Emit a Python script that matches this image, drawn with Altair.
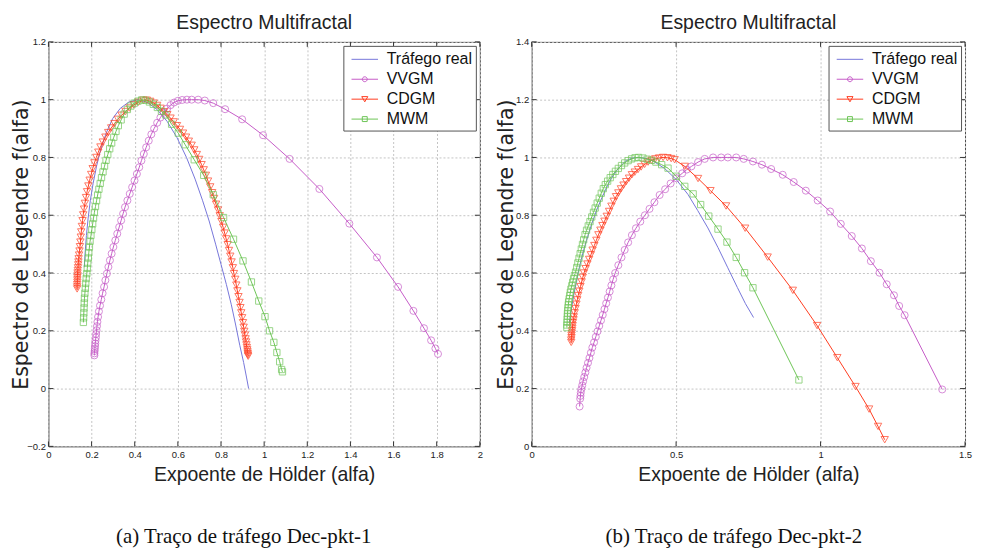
import altair as alt
import pandas as pd

SERIES = ["Tráfego real", "VVGM", "CDGM", "MWM"]
COLORS = ["#7676da", "#c65cc8", "#ff3d20", "#6dc556"]

# ---------------- panel (a) : Dec-pkt-1 ----------------
A_REAL_ALPHA = [0.166, 0.170, 0.176, 0.184, 0.194, 0.207, 0.223, 0.243, 0.268, 0.298, 0.333, 0.373, 0.415,
                0.46, 0.505, 0.55, 0.595, 0.64, 0.68, 0.715, 0.745, 0.775, 0.80, 0.825, 0.848, 0.868, 0.887,
                0.905, 0.918, 0.928]
A_REAL_F = [0.42, 0.47, 0.53, 0.59, 0.65, 0.71, 0.77, 0.83, 0.885, 0.935, 0.97, 0.992, 1.0,
            0.99, 0.965, 0.925, 0.87, 0.80, 0.725, 0.65, 0.58, 0.5, 0.43, 0.36, 0.29, 0.22, 0.15,
            0.09, 0.04, 0.0]

A_VVGM_ALPHA = [0.213, 0.213, 0.214, 0.215, 0.216, 0.217, 0.218, 0.22, 0.221, 0.223, 0.225, 0.227, 0.23, 0.234,
                0.239, 0.245, 0.251, 0.258, 0.264, 0.271, 0.278, 0.285, 0.293, 0.301, 0.31, 0.319, 0.328, 0.337,
                0.346, 0.355, 0.366, 0.377, 0.388, 0.399, 0.41, 0.421, 0.431, 0.442, 0.453, 0.465, 0.477, 0.49,
                0.504, 0.519, 0.535, 0.55, 0.566, 0.582, 0.6, 0.62, 0.642, 0.664, 0.694, 0.725, 0.764, 0.819,
                0.898, 0.995, 1.118, 1.256, 1.395, 1.523, 1.621, 1.692, 1.741, 1.774, 1.794, 1.806]
A_VVGM_F = [0.115, 0.122, 0.13, 0.138, 0.147, 0.156, 0.166, 0.177, 0.189, 0.202, 0.216, 0.231, 0.248, 0.267,
            0.287, 0.308, 0.33, 0.352, 0.375, 0.398, 0.421, 0.444, 0.467, 0.49, 0.513, 0.536, 0.559, 0.582,
            0.605, 0.628, 0.651, 0.674, 0.697, 0.72, 0.743, 0.766, 0.789, 0.812, 0.835, 0.858, 0.88, 0.9,
            0.92, 0.938, 0.955, 0.969, 0.981, 0.99, 0.996, 0.999, 1.0, 1.0, 1.0, 0.997, 0.988, 0.967,
            0.932, 0.877, 0.795, 0.691, 0.571, 0.454, 0.352, 0.269, 0.209, 0.167, 0.139, 0.12]

A_CDGM_ALPHA = [0.133, 0.133, 0.133, 0.134, 0.134, 0.134, 0.135, 0.135, 0.136, 0.137, 0.138, 0.139, 0.14, 0.142,
                0.144, 0.146, 0.148, 0.150, 0.152, 0.155, 0.158, 0.161, 0.165, 0.169, 0.174, 0.179, 0.185, 0.191,
                0.198, 0.205, 0.213, 0.222, 0.231, 0.241, 0.252, 0.264, 0.277, 0.291, 0.306, 0.322, 0.339, 0.357,
                0.376, 0.396, 0.417, 0.44,
                0.456, 0.472, 0.488, 0.504, 0.52, 0.536, 0.551, 0.566, 0.581, 0.596, 0.61, 0.624, 0.638, 0.651,
                0.664, 0.676, 0.688, 0.699, 0.71, 0.72, 0.73, 0.74, 0.75, 0.759, 0.768, 0.777, 0.786, 0.794,
                0.802, 0.81, 0.817, 0.824, 0.831, 0.837, 0.843, 0.849, 0.855, 0.86, 0.866, 0.871, 0.876, 0.881,
                0.886, 0.89, 0.894, 0.898, 0.902, 0.905, 0.908, 0.911, 0.914, 0.916, 0.918, 0.92, 0.922, 0.923,
                0.924, 0.925, 0.926]
A_CDGM_F = [0.345, 0.352, 0.36, 0.368, 0.376, 0.384, 0.392, 0.40, 0.409, 0.418, 0.428, 0.438, 0.449, 0.462,
            0.476, 0.491, 0.507, 0.524, 0.542, 0.561, 0.581, 0.601, 0.621, 0.641, 0.661, 0.681, 0.701, 0.721,
            0.741, 0.761, 0.781, 0.8, 0.818, 0.836, 0.853, 0.87, 0.886, 0.902, 0.917, 0.932, 0.946, 0.959,
            0.971, 0.982, 0.991, 0.998,
            0.998, 0.994, 0.988, 0.98, 0.97, 0.958, 0.948, 0.936, 0.923, 0.91, 0.897, 0.884, 0.87, 0.856,
            0.842, 0.826, 0.81, 0.793, 0.775, 0.757, 0.738, 0.718, 0.698, 0.678, 0.658, 0.638, 0.618, 0.598,
            0.578, 0.558, 0.538, 0.518, 0.498, 0.478, 0.458, 0.438, 0.418, 0.398, 0.378, 0.358, 0.338, 0.318,
            0.298, 0.28, 0.262, 0.245, 0.228, 0.212, 0.198, 0.185, 0.172, 0.161, 0.151, 0.142, 0.134, 0.127,
            0.121, 0.116, 0.112]

A_MWM_ALPHA = [0.162, 0.163, 0.164, 0.165, 0.166, 0.167, 0.169, 0.171, 0.173, 0.175, 0.178, 0.18, 0.182, 0.185,
               0.187, 0.19, 0.193, 0.197, 0.201, 0.205, 0.209, 0.213, 0.218, 0.223, 0.228, 0.234, 0.24, 0.246,
               0.253, 0.26, 0.267, 0.275, 0.284, 0.293, 0.303, 0.313, 0.324, 0.337, 0.351, 0.366, 0.382, 0.398,
               0.415, 0.432,
               0.45, 0.468, 0.486, 0.505, 0.524, 0.544, 0.571, 0.602, 0.634, 0.676, 0.72, 0.764, 0.812, 0.858,
               0.902, 0.941, 0.975, 1.004, 1.025, 1.045, 1.059, 1.072, 1.081, 1.085]
A_MWM_F = [0.229, 0.245, 0.262, 0.279, 0.296, 0.313, 0.33, 0.347, 0.364, 0.381, 0.398, 0.416, 0.434, 0.452,
           0.47, 0.49, 0.51, 0.53, 0.55, 0.57, 0.59, 0.61, 0.63, 0.65, 0.67, 0.69, 0.71, 0.73,
           0.75, 0.77, 0.79, 0.81, 0.83, 0.85, 0.87, 0.89, 0.91, 0.93, 0.95, 0.966, 0.978, 0.988,
           0.995, 0.999,
           0.998, 0.992, 0.984, 0.973, 0.96, 0.947, 0.915, 0.884, 0.844, 0.792, 0.738, 0.671, 0.592, 0.517,
           0.442, 0.369, 0.303, 0.249, 0.2, 0.16, 0.125, 0.093, 0.066, 0.058]

# ---------------- panel (b) : Dec-pkt-2 ----------------
B_REAL_ALPHA = [0.131, 0.135, 0.14, 0.147, 0.155, 0.163, 0.172, 0.181, 0.19, 0.199, 0.208, 0.225, 0.243, 0.26,
                0.277, 0.3, 0.323, 0.347, 0.37, 0.395, 0.42, 0.46, 0.5, 0.541, 0.575, 0.61, 0.645, 0.679,
                0.712, 0.74, 0.768]
B_REAL_F = [0.43, 0.46, 0.49, 0.53, 0.57, 0.61, 0.648, 0.683, 0.713, 0.742, 0.77, 0.818, 0.86, 0.897,
            0.93, 0.962, 0.986, 0.998, 1.0, 0.997, 0.988, 0.962, 0.924, 0.872, 0.816, 0.756, 0.688, 0.618,
            0.55, 0.494, 0.446]

B_VVGM_ALPHA = [0.166, 0.168, 0.169, 0.17, 0.172, 0.175, 0.178, 0.182, 0.186, 0.19, 0.195, 0.2, 0.205, 0.21,
                0.216, 0.222, 0.228, 0.234, 0.24, 0.246, 0.252, 0.258, 0.264, 0.27, 0.276, 0.282, 0.289, 0.3,
                0.311, 0.322, 0.334, 0.347, 0.361, 0.376, 0.392, 0.408, 0.425, 0.443, 0.462, 0.481, 0.501, 0.521,
                0.537, 0.553, 0.576, 0.599, 0.628, 0.656, 0.679, 0.708, 0.734, 0.766, 0.797, 0.829, 0.869, 0.907,
                0.949, 0.99, 1.033, 1.07, 1.108, 1.143, 1.174, 1.204, 1.229, 1.254, 1.272, 1.291, 1.421]
B_VVGM_F = [0.138, 0.165, 0.175, 0.186, 0.198, 0.211, 0.225, 0.24, 0.256, 0.272, 0.289, 0.306, 0.324, 0.342,
            0.36, 0.379, 0.398, 0.417, 0.436, 0.455, 0.475, 0.495, 0.515, 0.536, 0.557, 0.578, 0.6, 0.627,
            0.654, 0.68, 0.706, 0.731, 0.755, 0.778, 0.8, 0.822, 0.845, 0.87, 0.89, 0.91, 0.928, 0.945,
            0.958, 0.969, 0.984, 0.995, 1.0, 1.0, 1.0, 1.0, 0.995, 0.986, 0.975, 0.96, 0.94, 0.915,
            0.885, 0.851, 0.813, 0.77, 0.728, 0.685, 0.641, 0.601, 0.561, 0.523, 0.486, 0.454, 0.197]

B_CDGM_ALPHA = [0.137, 0.137, 0.138, 0.138, 0.139, 0.14, 0.141, 0.142, 0.143, 0.145, 0.146, 0.149, 0.152, 0.155,
                0.158, 0.161, 0.165, 0.169, 0.173, 0.177, 0.181, 0.187, 0.193, 0.199, 0.205, 0.211, 0.217, 0.224,
                0.231, 0.238, 0.245, 0.252, 0.26, 0.268, 0.276, 0.284, 0.292, 0.3, 0.309, 0.318, 0.327, 0.337,
                0.347, 0.357, 0.368, 0.379, 0.391, 0.403, 0.415, 0.428, 0.441, 0.455,
                0.47, 0.483, 0.495, 0.53, 0.576, 0.619, 0.673, 0.739, 0.817, 0.904, 0.988, 1.058, 1.121, 1.168,
                1.199, 1.222]
B_CDGM_F = [0.36, 0.368, 0.376, 0.384, 0.392, 0.4, 0.409, 0.418, 0.428, 0.438, 0.448, 0.462, 0.477, 0.492,
            0.507, 0.522, 0.537, 0.553, 0.569, 0.585, 0.6, 0.615, 0.631, 0.647, 0.663, 0.679, 0.695, 0.713,
            0.732, 0.748, 0.764, 0.779, 0.796, 0.813, 0.831, 0.848, 0.864, 0.877, 0.891, 0.904, 0.916, 0.928,
            0.94, 0.949, 0.958, 0.967, 0.976, 0.984, 0.99, 0.995, 0.998, 1.0,
            0.999, 0.996, 0.992, 0.969, 0.927, 0.885, 0.832, 0.755, 0.655, 0.54, 0.418, 0.307, 0.207, 0.129,
            0.069, 0.023]

B_MWM_ALPHA = [0.122, 0.122, 0.123, 0.123, 0.124, 0.124, 0.125, 0.126, 0.127, 0.128, 0.13, 0.132, 0.134, 0.136,
               0.139, 0.142, 0.145, 0.148, 0.152, 0.156, 0.16, 0.164, 0.168, 0.172, 0.176, 0.18, 0.185, 0.19,
               0.196, 0.202, 0.208, 0.214, 0.22, 0.227, 0.234, 0.241, 0.248, 0.255, 0.263, 0.272, 0.281, 0.29,
               0.3, 0.311, 0.322, 0.334, 0.346, 0.358, 0.37,
               0.385, 0.40, 0.415, 0.43, 0.45, 0.472, 0.50, 0.53, 0.559, 0.585, 0.613, 0.645, 0.676, 0.708,
               0.737, 0.766, 0.925]
B_MWM_F = [0.411, 0.42, 0.43, 0.44, 0.45, 0.46, 0.47, 0.48, 0.49, 0.5, 0.511, 0.522, 0.533, 0.544,
           0.556, 0.568, 0.58, 0.591, 0.603, 0.619, 0.635, 0.651, 0.667, 0.683, 0.699, 0.715, 0.733, 0.748,
           0.763, 0.778, 0.794, 0.81, 0.825, 0.842, 0.859, 0.876, 0.892, 0.906, 0.918, 0.93, 0.941, 0.952,
           0.962, 0.972, 0.981, 0.989, 0.995, 0.999, 1.0,
           0.998, 0.994, 0.99, 0.984, 0.975, 0.963, 0.935, 0.9, 0.874, 0.837, 0.797, 0.752, 0.707, 0.654,
           0.601, 0.549, 0.23]

A_X_TICKS = [0, 0.2, 0.4, 0.6, 0.8, 1, 1.2, 1.4, 1.6, 1.8, 2]
A_Y_TICKS = [-0.2, 0, 0.2, 0.4, 0.6, 0.8, 1, 1.2]
B_X_TICKS = [0, 0.5, 1, 1.5]
B_Y_TICKS = [0, 0.2, 0.4, 0.6, 0.8, 1, 1.2, 1.4]

TITLE = "Espectro Multifractal"
X_TITLE = "Expoente de Hölder (alfa)"
Y_TITLE = "Espectro de Legendre f(alfa)"
CAPTION_A = "(a) Traço de tráfego Dec-pkt-1"
CAPTION_B = "(b) Traço de tráfego Dec-pkt-2"

SANS = "Liberation Sans, Arial, sans-serif"

MARKERS = {"VVGM": ("circle", 50), "CDGM": ("triangle-down", 55), "MWM": ("square", 40)}

LEGEND_PATHS = [
    "M-1.4,0H1.4",
    "M-1.4,0H1.4M-0.26,0A0.26,0.26,0,1,0,0.26,0A0.26,0.26,0,1,0,-0.26,0",
    "M-1.4,0H1.4M-0.32,-0.27L0.32,-0.27L0,0.28Z",
    "M-1.4,0H1.4M-0.26,-0.26H0.26V0.26H-0.26Z",
]


def frame(parts):
    rows = []
    for name, xs, ys in parts:
        for i, (x, y) in enumerate(zip(xs, ys)):
            rows.append({"a": x, "f": y, "series": name, "i": i})
    return pd.DataFrame(rows)


def panel(data, xdom, ydom, xvals, yvals, W, H, ytitle_x, caption, cap_x):
    base = alt.Chart(data)
    xsc = alt.Scale(domain=xdom, nice=False, zero=False)
    ysc = alt.Scale(domain=ydom, nice=False, zero=False)

    lab = dict(labelFont=SANS, labelFontSize=9.5, labelColor="#222", labelPadding=3,
               labelFlush=False, labelOverlap=False)
    ax_x_main = alt.Axis(values=xvals, format="~g", orient="bottom", ticks=False, domain=False, grid=True,
                         title=X_TITLE, titleFont=SANS, titleFontSize=19.5, titleFontWeight="normal",
                         titleColor="#222", titleBaseline="alphabetic", titleY=34, **lab)
    ax_y_main = alt.Axis(values=yvals, format="~g", orient="left", ticks=False, domain=False, grid=True,
                         title=Y_TITLE, titleFont="DejaVu Sans", titleFontSize=20.5, titleFontWeight="normal",
                         titleColor="#222", titleBaseline="alphabetic", titleX=ytitle_x, **lab)

    layers = []
    for k, (name, colr) in enumerate(zip(SERIES, COLORS)):
        sub = base.transform_filter(alt.datum.series == name)
        if k == 0:
            xe = alt.X("a:Q", scale=xsc, axis=ax_x_main)
            ye = alt.Y("f:Q", scale=ysc, axis=ax_y_main)
        else:
            xe = alt.X("a:Q", scale=xsc, axis=None)
            ye = alt.Y("f:Q", scale=ysc, axis=None)
        layers.append(sub.mark_line(color=colr, strokeWidth=1).encode(x=xe, y=ye, order="i:Q"))
        if name in MARKERS:
            shp, sz = MARKERS[name]
            layers.append(sub.mark_point(shape=shp, filled=False, size=sz, strokeWidth=1, color=colr).encode(
                x=alt.X("a:Q", scale=xsc, axis=None), y=alt.Y("f:Q", scale=ysc, axis=None)))

    # inward tick marks on the four sides of the box (MATLAB style)
    xt = alt.Chart(pd.DataFrame({"v": xvals}))
    yt = alt.Chart(pd.DataFrame({"v": yvals}))
    tick_style = dict(color="#333", strokeWidth=1)
    layers += [
        xt.mark_rule(**tick_style).encode(x=alt.X("v:Q", scale=xsc, axis=None),
                                          y=alt.value(H), y2=alt.value(H - 5)),
        xt.mark_rule(**tick_style).encode(x=alt.X("v:Q", scale=xsc, axis=None),
                                          y=alt.value(0), y2=alt.value(5)),
        yt.mark_rule(**tick_style).encode(y=alt.Y("v:Q", scale=ysc, axis=None),
                                          x=alt.value(0), x2=alt.value(5)),
        yt.mark_rule(**tick_style).encode(y=alt.Y("v:Q", scale=ysc, axis=None),
                                          x=alt.value(W - 5), x2=alt.value(W)),
    ]

    leg = alt.Legend(title=None, orient="top-right", offset=4, padding=3.5, fillColor="white",
                     strokeColor="#555", symbolSize=361, symbolStrokeWidth=1, symbolOpacity=1,
                     symbolFillColor="transparent", symbolOffset=8, labelOffset=12, labelFont=SANS,
                     labelFontSize=16, labelColor="#111", rowPadding=2, labelLimit=300)
    layers.append(base.mark_point(filled=False, strokeWidth=1, opacity=0).encode(
        x=alt.X("a:Q", scale=xsc, axis=None),
        y=alt.Y("f:Q", scale=ysc, axis=None),
        shape=alt.Shape("series:N", scale=alt.Scale(domain=SERIES, range=LEGEND_PATHS), legend=leg),
        stroke=alt.Stroke("series:N", scale=alt.Scale(domain=SERIES, range=COLORS), legend=leg)))

    txt = alt.Chart(pd.DataFrame({"title": [TITLE], "caption": [caption]}))
    layers.append(txt.mark_text(font=SANS, fontSize=19.5, align="center", baseline="alphabetic",
                                color="#222").encode(x=alt.value(W / 2), y=alt.value(-12.5), text="title:N"))
    layers.append(txt.mark_text(font="Liberation Serif", fontSize=21, align="center", baseline="alphabetic",
                                color="#111").encode(x=alt.value(cap_x), y=alt.value(503), text="caption:N"))

    return alt.layer(*layers).resolve_axis(x="independent", y="independent").properties(width=W, height=H)


df_a = frame([("Tráfego real", A_REAL_ALPHA, A_REAL_F), ("VVGM", A_VVGM_ALPHA, A_VVGM_F),
              ("CDGM", A_CDGM_ALPHA, A_CDGM_F), ("MWM", A_MWM_ALPHA, A_MWM_F)])
df_b = frame([("Tráfego real", B_REAL_ALPHA, B_REAL_F), ("VVGM", B_VVGM_ALPHA, B_VVGM_F),
              ("CDGM", B_CDGM_ALPHA, B_CDGM_F), ("MWM", B_MWM_ALPHA, B_MWM_F)])

pa = panel(df_a, [0, 2], [-0.2, 1.2], A_X_TICKS, A_Y_TICKS, 433, 406, -21, CAPTION_A, 196)
pb = panel(df_b, [0, 1.5], [0, 1.4], B_X_TICKS, B_Y_TICKS, 435, 406, -19.7, CAPTION_B, 203)

chart = alt.hconcat(pa, pb, spacing=11).resolve_scale(
    shape="independent", stroke="independent"
).resolve_legend(
    shape="independent", stroke="independent"
).properties(
    padding={"left": 2.6, "top": 4, "right": 0, "bottom": 0}
).configure(background="white").configure_view(
    stroke="#4a4a4a", strokeWidth=1
).configure_axis(
    gridColor="#c4c4c4", gridDash=[2, 2], gridWidth=1
)

chart.save("out.html", embed_options={"renderer": "svg", "actions": False})
